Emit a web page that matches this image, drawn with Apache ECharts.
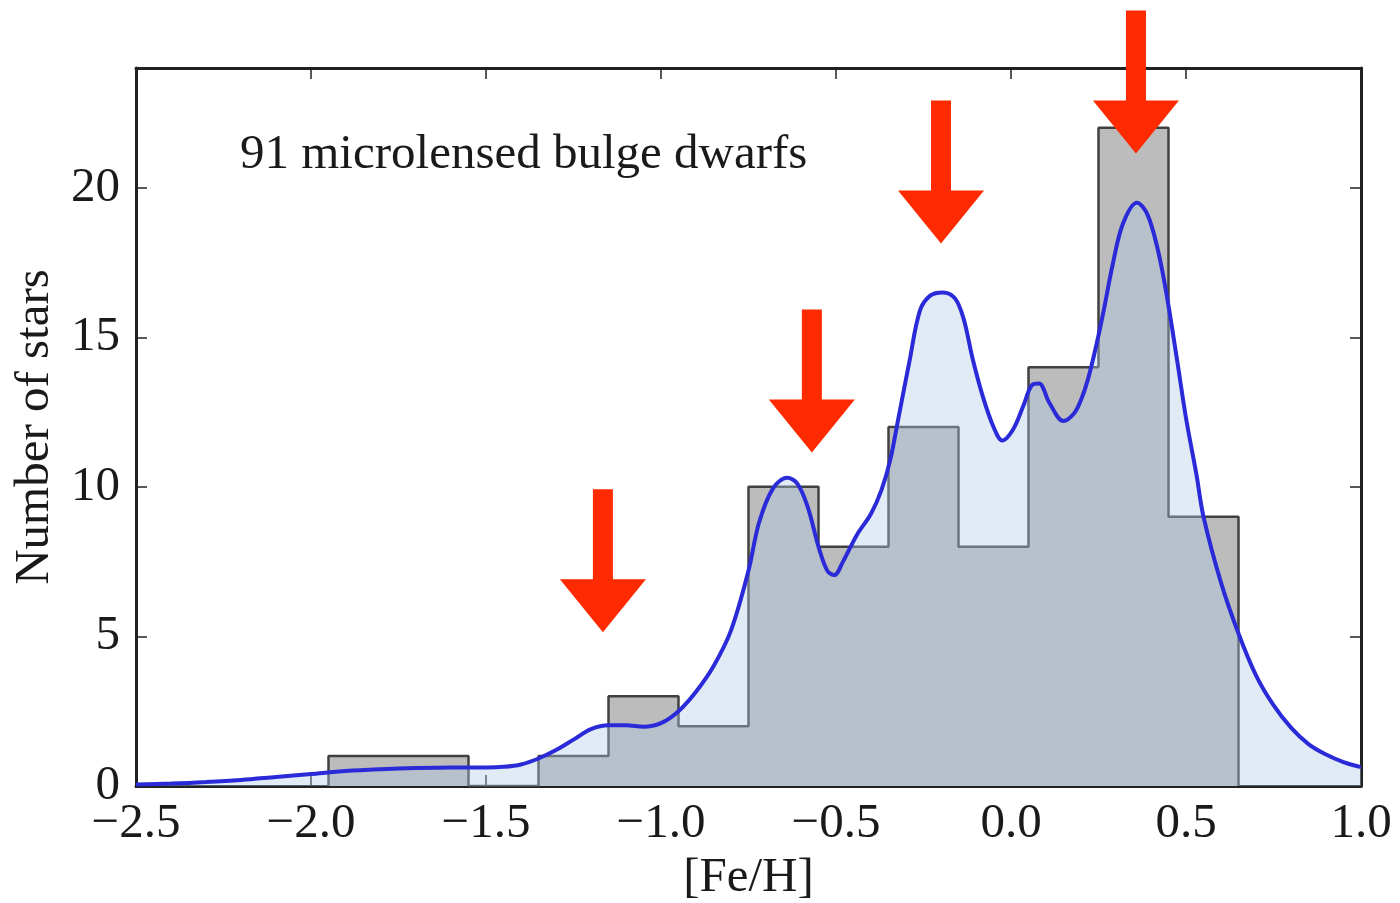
<!DOCTYPE html>
<html>
<head>
<meta charset="utf-8">
<script src="https://cdn.jsdelivr.net/npm/echarts@6/dist/echarts.min.js"></script>
<style>
html,body{margin:0;padding:0;background:#fff;}
#chart{width:1400px;height:903px;}
</style>
</head>
<body>
<div id="chart"></div>
<script>
// ---- data ----
const binEdges = [-1.95, -1.75, -1.55, -1.35, -1.15, -0.95, -0.75, -0.55, -0.35, -0.15, 0.05, 0.25, 0.45, 0.65];
const binCounts = [1, 1, 0, 1, 3, 2, 10, 8, 12, 8, 14, 22, 9];

const kdeX = [-2.5, -2.4, -2.3, -2.2, -2.1, -2.0, -1.9, -1.8, -1.7, -1.6, -1.5, -1.45, -1.4, -1.35, -1.3, -1.25, -1.2, -1.15, -1.1, -1.05, -1.0, -0.95, -0.9, -0.85, -0.8, -0.75, -0.72, -0.68, -0.64, -0.61, -0.58, -0.55, -0.525, -0.505, -0.48, -0.44, -0.4, -0.37, -0.345, -0.32, -0.29, -0.26, -0.23, -0.195, -0.16, -0.135, -0.11, -0.08, -0.05, -0.025, 0.005, 0.035, 0.06, 0.08, 0.11, 0.15, 0.18, 0.2, 0.22, 0.245, 0.265, 0.29, 0.32, 0.36, 0.39, 0.42, 0.445, 0.475, 0.5, 0.53, 0.55, 0.6, 0.65, 0.7, 0.75, 0.8, 0.85, 0.9, 0.95, 1.0];
const kdeY = [0.05, 0.08, 0.13, 0.2, 0.3, 0.4, 0.5, 0.56, 0.6, 0.62, 0.62, 0.64, 0.72, 0.92, 1.2, 1.55, 1.9, 2.03, 2.03, 1.98, 2.1, 2.5, 3.15, 4.0, 5.2, 7.2, 8.8, 9.95, 10.3, 10.1, 9.3, 8.0, 7.2, 7.05, 7.5, 8.4, 9.1, 9.9, 10.9, 12.4, 14.2, 15.9, 16.4, 16.5, 16.3, 15.6, 14.3, 13.0, 12.0, 11.55, 11.9, 12.7, 13.4, 13.45, 12.8, 12.2, 12.45, 12.9, 13.6, 14.8, 15.9, 17.4, 18.8, 19.5, 19.1, 17.9, 16.4, 14.2, 12.3, 10.4, 9.0, 6.8, 5.1, 3.7, 2.7, 1.95, 1.4, 1.05, 0.8, 0.63];

const arrowX = [-1.166, -0.569, -0.20, 0.357];
const arrowTipY = [5.14, 11.15, 18.13, 21.14];

const xTickLabels = ['\u22122.5', '\u22122.0', '\u22121.5', '\u22121.0', '\u22120.5', '0.0', '0.5', '1.0'];
const yTickLabels = ['0', '5', '10', '15', '20'];

const annotationText = '91 microlensed bulge dwarfs';
const xName = '[Fe/H]';
const yName = 'Number of stars';

// ---- build series data ----
const histData = [[binEdges[0], 0]];
for (let i = 0; i < binCounts.length; i++) histData.push([binEdges[i], binCounts[i]]);
histData.push([binEdges[binEdges.length - 1], 0]);

const kdeData = kdeX.map((x, i) => [x, kdeY[i]]);
const arrowData = arrowX.map((x, i) => [x, arrowTipY[i]]);

const FONT = '"Liberation Serif", "DejaVu Serif", serif';
const INK = '#1a1a1a';
const FS = 49;

function xLabel(v) {
  const idx = Math.round((v + 2.5) / 0.5);
  return xTickLabels[idx] !== undefined ? xTickLabels[idx] : '';
}
function yLabel(v) {
  const idx = Math.round(v / 5);
  return (Math.abs(v - idx * 5) < 1e-6 && yTickLabels[idx] !== undefined) ? yTickLabels[idx] : '';
}

const axisLineStyle = { color: '#222', width: 3 };
const tickStyle = { inside: true, length: 11, lineStyle: { color: '#222', width: 1.5 } };

const chart = echarts.init(document.getElementById('chart'), null, { renderer: 'canvas' });
chart.setOption({
  animation: false,
  backgroundColor: '#fff',
  grid: { left: 136, right: 39, top: 68, bottom: 117, containLabel: false, outerBoundsMode: 'none' },
  xAxis: [{
    type: 'value', min: -2.5, max: 1.0, interval: 0.5, position: 'bottom',
    axisLine: { show: true, onZero: false, lineStyle: axisLineStyle },
    axisTick: tickStyle,
    splitLine: { show: false },
    axisLabel: { formatter: xLabel, fontFamily: FONT, fontSize: FS, color: INK, margin: 14 },
    name: xName, nameLocation: 'middle', nameGap: 66,
    nameTextStyle: { fontFamily: FONT, fontSize: FS, color: INK }
  }, {
    type: 'value', min: -2.5, max: 1.0, interval: 0.5, position: 'top',
    axisLine: { show: true, onZero: false, lineStyle: axisLineStyle },
    axisTick: tickStyle, axisLabel: { show: false }, splitLine: { show: false }
  }],
  yAxis: [{
    type: 'value', min: 0, max: 24, interval: 5, position: 'left',
    axisLine: { show: true, onZero: false, lineStyle: axisLineStyle },
    axisTick: tickStyle,
    splitLine: { show: false },
    axisLabel: { formatter: yLabel, fontFamily: FONT, fontSize: FS, color: INK, margin: 16, showMaxLabel: false },
    name: yName, nameLocation: 'middle', nameGap: 76,
    nameTextStyle: { fontFamily: FONT, fontSize: FS, color: INK }
  }, {
    type: 'value', min: 0, max: 24, interval: 5, position: 'right',
    axisLine: { show: true, onZero: false, lineStyle: axisLineStyle },
    axisTick: tickStyle, axisLabel: { show: false }, splitLine: { show: false }
  }],
  graphic: [{
    type: 'text', left: 240, top: 131, z: 100,
    style: { text: annotationText, font: FS + 'px ' + FONT, fill: INK }
  }],
  series: [{
    type: 'line', name: 'hist', xAxisIndex: 0, yAxisIndex: 0,
    data: histData, step: 'end', symbol: 'none', z: 2,
    lineStyle: { color: '#404040', width: 2.5 },
    areaStyle: { color: '#bcbcbc', opacity: 1 }
  }, {
    type: 'line', name: 'kde', xAxisIndex: 0, yAxisIndex: 0,
    data: kdeData, smooth: 0.35, symbol: 'none', z: 3,
    lineStyle: { color: '#2a2ad8', width: 4 },
    areaStyle: { color: 'rgba(175,203,230,0.38)', opacity: 1 }
  }, {
    type: 'custom', name: 'arrows', xAxisIndex: 0, yAxisIndex: 0,
    data: arrowData, clip: false, z: 10,
    renderItem: function (params, api) {
      const p = api.coord([api.value(0), api.value(1)]);
      const hw = 43, hh = 53, sw = 10, sl = 90;
      return {
        type: 'polygon',
        shape: { points: [
          [p[0], p[1]], [p[0] - hw, p[1] - hh], [p[0] - sw, p[1] - hh],
          [p[0] - sw, p[1] - hh - sl], [p[0] + sw, p[1] - hh - sl],
          [p[0] + sw, p[1] - hh], [p[0] + hw, p[1] - hh]
        ] },
        style: { fill: '#ff2a00' }
      };
    }
  }]
});
</script>
</body>
</html>
